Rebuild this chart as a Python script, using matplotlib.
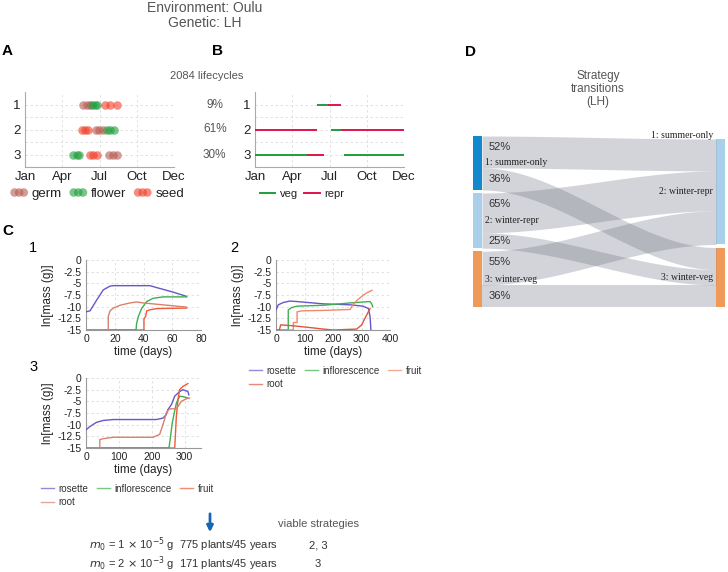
import numpy as np
import matplotlib.pyplot as plt
from matplotlib.lines import Line2D
from matplotlib.patches import Rectangle, FancyArrowPatch
import matplotlib.transforms as mtransforms

plt.rcParams['font.family'] = ['Liberation Sans', 'DejaVu Sans']

# ---- data ----
months = ["Jan", "Apr", "Jul", "Oct", "Dec"]
month_days = [0, 91.25, 182.5, 273.75, 365]
strategies = [1, 2, 3]

# panel A: day of year of germination / flowering / seed set per strategy
germ_days = {1: [141, 151, 159], 2: [174, 182, 190], 3: [206, 216, 225]}
flower_days = {1: [163, 171, 177], 2: [200, 208, 217], 3: [118, 127, 133]}
seed_days = {1: [196, 208, 225], 2: [139, 147, 155], 3: [159, 167, 176]}

# panel B: phases (strategy, start day, end day, phase)
phase_segments = [
    (1, 152, 179, "veg"), (1, 179, 211, "repr"),
    (2, 0, 152, "repr"), (2, 186, 211, "veg"), (2, 211, 365, "repr"),
    (3, 0, 127, "veg"), (3, 127, 169, "repr"), (3, 218, 365, "veg"),
]
strategy_share = [9, 61, 30]

# panel C: ln mass over time
c1 = {
    "rosette": ([0, 2.8, 7.4, 12, 16.7, 19, 26, 44.5, 49, 53.8, 60.8, 70],
                [-11.1, -10.9, -8.6, -6.4, -5.6, -5.5, -5.5, -5.5, -5.9, -6.3, -6.9, -7.8]),
    "inflorescence": ([0, 34.8, 35.2, 36.4, 38.7, 42.2, 46.8, 53.8, 70],
                      [-15, -15, -13.6, -12.1, -10.4, -8.9, -8.2, -7.9, -7.9]),
    "fruit": ([0, 40.3, 40.3, 41.5, 42.2, 45.5, 50, 70],
              [-15, -15, -12.6, -12.1, -10.9, -10.6, -10.4, -10.3]),
    "root": ([0, 15.5, 15.5, 16.7, 19, 23.7, 30.6, 35.2, 39.9, 70],
             [-15, -15, -12.1, -10.9, -10.3, -9.7, -9.2, -9.0, -9.2, -10.1]),
}
c2 = {
    "rosette": ([0, 8, 26, 49, 72.5, 166, 260, 306, 324, 330, 333],
                [-10.7, -9.6, -9.1, -8.8, -8.9, -9.4, -9.6, -9.9, -10.4, -12.1, -15]),
    "inflorescence": ([0, 43, 43, 55, 72.5, 166, 260, 330, 336, 339],
                      [-15, -15, -10.7, -10.2, -9.9, -9.7, -9.2, -8.9, -9.4, -10.0]),
    "fruit": ([0, 61, 61, 74, 74, 90, 166, 260, 270, 285, 305, 320, 337],
              [-15, -15, -13.4, -13.4, -11.1, -10.9, -10.8, -10.6, -9.6, -8.6, -7.6, -7.0, -6.5]),
    "root": ([0, 11.7, 16.4, 61, 107.6, 166, 201, 283, 300.6, 312, 324, 330],
             [-15, -15, -13.9, -14.1, -14.4, -14.8, -15, -14.8, -13.9, -12.5, -11.1, -10.4]),
}
c3 = {
    "rosette": ([0, 12, 32, 52.5, 83, 214, 234, 244, 249, 260, 270, 285, 295, 310, 313],
                [-11.1, -10.4, -9.5, -9.1, -8.9, -8.9, -8.6, -7.9, -6.8, -5.7, -3.9, -2.9, -2.5, -2.9, -3.6]),
    "inflorescence": ([0, 252.5, 256.6, 262.6, 269.7, 275, 285, 295, 310],
                      [-15, -15, -12.9, -9.6, -7.1, -5.4, -3.9, -4.0, -4.3]),
    "fruit": ([0, 270, 275, 280, 285, 295, 310],
              [-15, -15, -8.2, -4.6, -2.5, -1.8, -1.2]),
    "root": ([0, 42, 42, 52.5, 83, 204, 214, 224, 229, 239, 244, 254.5, 275, 280, 290, 310, 315],
             [-15, -15, -13.2, -13.0, -12.7, -12.7, -12.4, -12.1, -11.1, -8.9, -7.5, -6.6, -6.6, -6.1, -5.0, -4.3, -4.3]),
}

# panel D: strategy transitions (source, target, percent)
node_names = ["1: summer-only", "2: winter-repr", "3: winter-veg"]
transitions = [(1, 2, 52), (1, 3, 36), (2, 2, 65), (2, 3, 25), (3, 2, 55), (3, 3, 36)]

# ---- figure ----
W, H = 728, 572
fig = plt.figure(figsize=(W / 100, H / 100), dpi=100)


def box(x0, y0, x1, y1):
    return [x0 / W, 1 - y1 / H, (x1 - x0) / W, (y1 - y0) / H]


def ftext(x, y, s, **kw):
    kw.setdefault("ha", "left")
    kw.setdefault("va", "center")
    fig.text(x / W, 1 - y / H, s, **kw)


grey = "#555555"
ftext(205, 8, "Environment: Oulu", ha="center", fontsize=10, color=grey)
ftext(205, 23, "Genetic: LH", ha="center", fontsize=10, color=grey)
for lab, x, y in [("A", 2, 51), ("B", 212, 51), ("C", 2, 231), ("D", 465, 52)]:
    ftext(x, y, lab, fontsize=11, fontweight="bold")
ftext(207, 76, "2084 lifecycles", ha="center", fontsize=8, color=grey)


def style_ab(ax):
    ax.set_xlim(0, 365)
    ax.set_ylim(3.5, 0.5)
    ax.set_xticks(month_days)
    ax.set_xticklabels(months)
    ax.set_yticks(strategies)
    ax.set_yticks([1.5, 2.5], minor=True)
    ax.grid(True, which="both", ls=(0, (3, 3)), color="#dddddd", lw=0.6)
    for s in ["top", "right"]:
        ax.spines[s].set_visible(False)
    for s in ["left", "bottom"]:
        ax.spines[s].set_color("#aaaaaa")
    ax.tick_params(which="both", length=0, labelsize=9.5, pad=3, labelcolor="#222222")


# panel A
axA = fig.add_axes(box(25, 92, 174, 167))
col_germ, col_flower, col_seed = "#b85a50", "#1e9e3c", "#f0402a"
for r in strategies:
    axA.scatter(germ_days[r], [r] * 3, s=38, color=col_germ, alpha=0.6, lw=0, zorder=3)
    axA.scatter(flower_days[r], [r] * 3, s=38, color=col_flower, alpha=0.6, lw=0, zorder=3)
    axA.scatter(seed_days[r], [r] * 3, s=38, color=col_seed, alpha=0.6, lw=0, zorder=3)
style_ab(axA)
hA = [axA.scatter([], [], s=38, color=c, alpha=0.6, lw=0) for c in (col_germ, col_flower, col_seed)]
fig.legend(hA, ["germ", "flower", "seed"], loc="center left", bbox_to_anchor=(4 / W, 1 - 194 / H),
           ncol=3, frameon=False, scatterpoints=3, scatteryoffsets=[0.5], fontsize=9.5,
           handlelength=1.3, handletextpad=0.3, columnspacing=0.6, borderpad=0,
           labelcolor="#222222")

# panel B
axB = fig.add_axes(box(255, 92, 404, 167))
col_veg, col_repr = "#1e9e3c", "#e0144c"
for r, a, b, ph in phase_segments:
    axB.plot([a, b], [r, r], color=col_veg if ph == "veg" else col_repr, lw=1.4,
             solid_capstyle="butt", zorder=3)
style_ab(axB)
trB = mtransforms.blended_transform_factory(axB.transAxes, axB.transData)
for r, p in zip(strategies, strategy_share):
    axB.text(-0.27, r, f"{p}%", transform=trB, ha="center", va="center", fontsize=8.5, color=grey)
hB = [Line2D([], [], color=col_veg, lw=1.4), Line2D([], [], color=col_repr, lw=1.4)]
fig.legend(hB, ["veg", "repr"], loc="center left", bbox_to_anchor=(254 / W, 1 - 194 / H),
           ncol=2, frameon=False, fontsize=8, handlelength=1.4, handletextpad=0.4,
           columnspacing=0.6, borderpad=0, labelcolor="#222222")


# panel C
def style_c(ax, xmax, xticks):
    ax.set_xlim(0, xmax)
    ax.set_ylim(-15, 0)
    ax.set_xticks(xticks)
    ax.set_yticks(np.arange(-15, 0.1, 2.5))
    ax.set_yticklabels(["-15", "-12.5", "-10", "-7.5", "-5", "-2.5", "0"])
    ax.grid(True, ls=(0, (3, 3)), color="#dddddd", lw=0.6)
    for s in ["top", "right"]:
        ax.spines[s].set_visible(False)
    for s in ["left", "bottom"]:
        ax.spines[s].set_color("#999999")
    ax.tick_params(length=0, labelsize=7.5, pad=3, labelcolor="#222222")
    ax.set_xlabel("time (days)", fontsize=8.5, labelpad=1, color="#222222")
    ax.set_ylabel("ln[mass (g)]", fontsize=8.5, labelpad=3, color="#222222")


order = ["rosette", "inflorescence", "fruit", "root"]
colors_a = {"rosette": "#6a55c8", "inflorescence": "#3cb050", "fruit": "#f05a3a", "root": "#d8826c"}
colors_b = {"rosette": "#6a55c8", "inflorescence": "#3cb050", "fruit": "#f0886a", "root": "#e0553a"}

panels = [(c1, box(86, 260, 201, 330), 80, [0, 20, 40, 60, 80], colors_a),
          (c2, box(276, 260, 390, 330), 400, [0, 100, 200, 300, 400], colors_b),
          (c3, box(86, 378, 201, 448), 350, [0, 100, 200, 300], colors_a)]
axesC = []
for data, rect, xmax, xt, cols in panels:
    ax = fig.add_axes(rect)
    for name in order:
        t, m = data[name]
        ax.plot(t, m, color=cols[name], lw=1.0, zorder=3)
    style_c(ax, xmax, xt)
    axesC.append(ax)

ftext(29, 248, "1", fontsize=10.5)
ftext(230, 248, "2", fontsize=10.5)
ftext(29, 367, "3", fontsize=10.5)


def c_legend(cols, x, y):
    names = ["rosette", "root", "inflorescence", "fruit"]
    hs = [Line2D([], [], color=cols[n], lw=1.0, alpha=0.7) for n in names]
    fig.legend(hs, names, loc="upper left", bbox_to_anchor=(x / W, 1 - y / H), ncol=3,
               frameon=False, fontsize=7, handlelength=1.3, handletextpad=0.5,
               columnspacing=0.9, labelspacing=0.35, borderpad=0, labelcolor="#333333")


c_legend(colors_b, 244, 361)
c_legend(colors_a, 36, 479)

# bottom summary
fig.add_artist(FancyArrowPatch((210 / W, 1 - 511 / H), (210 / W, 1 - 535 / H),
                               transform=fig.transFigure, arrowstyle="-|>",
                               mutation_scale=9, lw=2, color="#1a64b4"))
ftext(318, 524, "viable strategies", ha="center", fontsize=8, color=grey)
ftext(89, 545, r"$\mathbf{\mathit{m}}_0$ = 1 $\times$ 10$^{-5}$ g  775 plants/45 years", fontsize=8, color="#333333")
ftext(89, 564, r"$\mathbf{\mathit{m}}_0$ = 2 $\times$ 10$^{-3}$ g  171 plants/45 years", fontsize=8, color="#333333")
ftext(318, 545, "2, 3", ha="center", fontsize=8, color="#333333")
ftext(318, 564, "3", ha="center", fontsize=8, color="#333333")

# panel D: sankey
ftext(598, 89, "Strategy\ntransitions\n(LH)", ha="center", fontsize=8.5, color=grey, linespacing=1.15)
axD = fig.add_axes(box(473, 136, 725, 307))
axD.axis("off")
gap = 5
out_tot = {k: sum(v for s, d, v in transitions if s == k) for k in strategies}
in_tot = {k: sum(v for s, d, v in transitions if d == k) for k in strategies}
left_top, right_top = {}, {}
y = 0
for k in strategies:
    left_top[k] = y
    y += out_tot[k] + gap
total = y - gap
y = 0
for k in strategies:
    right_top[k] = y
    y += in_tot[k] + gap
axD.set_xlim(0, 1)
axD.set_ylim(total, 0)
nw = 9 / 252
node_cols = {1: "#1189cc", 2: "#aacfeb", 3: "#f09a5a"}

for k in strategies:
    axD.add_patch(Rectangle((0, left_top[k]), nw, out_tot[k], color=node_cols[k], lw=0))
    if in_tot[k] > 0:
        axD.add_patch(Rectangle((1 - nw, right_top[k]), nw, in_tot[k], color=node_cols[k], lw=0))

xs = np.linspace(nw, 1 - nw, 200)
tt = (xs - nw) / (1 - 2 * nw)
ss = 3 * tt ** 2 - 2 * tt ** 3
l_off = dict(left_top)
r_off = dict(right_top)
flows_sorted = sorted(transitions, key=lambda f: (f[1], f[0]))
r_pos = {}
for s, d, v in flows_sorted:
    r_pos[(s, d)] = r_off[d]
    r_off[d] += v
first_flow = {}
for s, d, v in transitions:
    y0 = l_off[s]
    l_off[s] += v
    y1 = r_pos[(s, d)]
    top = y0 + (y1 - y0) * ss
    axD.fill_between(xs, top, top + v, color="#6e7282", alpha=0.3, lw=0)
    if s not in first_flow:
        first_flow[s] = True
        ly = y0 + 0.2 * out_tot[s]
    else:
        ly = y0 + v / 2
    axD.text(nw + 0.025, ly, f"{v}%", ha="left", va="center", fontsize=8, color="#333333")

for k in strategies:
    axD.text(nw + 0.012, left_top[k] + out_tot[k] / 2, node_names[k - 1], ha="left", va="center",
             fontsize=7, family="Liberation Serif", color="#222222")
    axD.text(1 - nw - 0.012, right_top[k] + in_tot[k] / 2, node_names[k - 1], ha="right",
             va="center", fontsize=7, family="Liberation Serif", color="#222222")

fig.savefig("out.png", dpi=100)
